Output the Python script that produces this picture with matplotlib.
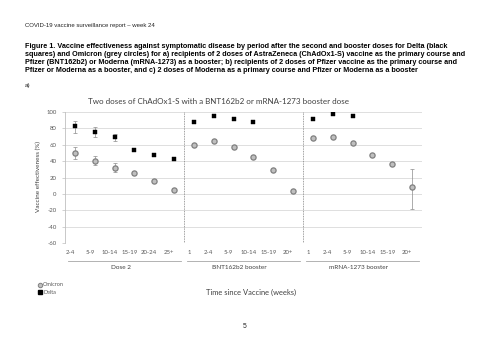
import matplotlib
matplotlib.use("Agg")
import matplotlib.pyplot as plt
import matplotlib.transforms as mtransforms
import numpy as np

# ---- data ----
categories = ["2-4", "5-9", "10-14", "15-19", "20-24", "25+",
              "1", "2-4", "5-9", "10-14", "15-19", "20+",
              "1", "2-4", "5-9", "10-14", "15-19", "20+"]
groups = ["Dose 2", "BNT162b2 booster", "mRNA-1273 booster"]

omicron = [50, 40, 32, 25, 16, 5,
           60, 65, 57, 45, 29, 3,
           68, 70, 62, 47, 36, 9]
omicron_lo = [43, 35, 27, 23, None, None,
              None, None, None, None, None, None,
              None, None, None, None, None, -19]
omicron_hi = [57, 46, 38, 27, None, None,
              None, None, None, None, None, None,
              None, None, None, None, None, 30]

delta = [83, 76, 69, 54, 47, 43,
         88, 95, 92, 88, None, None,
         91, 97, 95, None, None, None]
delta_lo = [74, 70, 65, None, None, None,
            None, None, None, None, None, None,
            None, None, None, None, None, None]
delta_hi = [89, 82, 73, None, None, None,
            None, None, None, None, None, None,
            None, None, None, None, None, None]

yticks = [-60, -40, -20, 0, 20, 40, 60, 80, 100]

W, H = 500, 353
fig = plt.figure(figsize=(W / 100, H / 100), dpi=100)
fig.patch.set_facecolor("white")

def fx(px):
    return px / W

def fy(py):
    return 1 - py / H

# ---- page text ----
fig.text(fx(25), fy(25), "COVID-19 vaccine surveillance report \u2013 week 24",
         family="Liberation Sans", fontsize=4.35, color="#222222", va="center")
caption = [
    "Figure 1. Vaccine effectiveness against symptomatic disease by period after the second and booster doses for Delta (black",
    "squares) and Omicron (grey circles) for a) recipients of 2 doses of AstraZeneca (ChAdOx1-S) vaccine as the primary course and",
    "Pfizer (BNT162b2) or Moderna (mRNA-1273) as a booster; b) recipients of 2 doses of Pfizer vaccine as the primary course and",
    "Pfizer or Moderna as a booster, and c) 2 doses of Moderna as a primary course and Pfizer or Moderna as a booster",
]
for i, line in enumerate(caption):
    fig.text(fx(25), fy(46 + i * 8.3), line, family="Liberation Sans",
             fontweight="bold", fontsize=5.2, color="black", va="center")
fig.text(fx(25), fy(86), "a)", family="Liberation Sans", fontsize=4.6,
         color="#222222", va="center")
fig.text(fx(245), fy(326), "5", family="Liberation Sans", fontsize=4.8,
         color="#222222", va="center", ha="center")

# ---- chart ----
left, right, top, bottom = 65, 422, 112, 243
ax = fig.add_axes([fx(left), fy(bottom), fx(right - left), (bottom - top) / H])
ax.set_facecolor("white")
n = len(categories)
x = np.arange(n)
ax.set_xlim(-0.5, n - 0.5)
ax.set_ylim(-60, 100)

for s in ["top", "right", "bottom"]:
    ax.spines[s].set_visible(False)
ax.spines["left"].set_color("#bfbfbf")
ax.spines["left"].set_linewidth(0.6)

ax.set_yticks(yticks)
ax.set_yticklabels([str(v) for v in yticks], family="Lato", fontsize=4.3,
                   color="#595959")
ax.tick_params(axis="y", length=2, width=0.5, color="#bfbfbf", pad=4)
ax.yaxis.grid(True, color="#d9d9d9", linewidth=0.6)
ax.set_axisbelow(True)

ax.set_xticks(x)
ax.set_xticklabels(categories, family="Lato", fontsize=4.3, color="#595959")
ax.tick_params(axis="x", length=0, pad=5)
offset = mtransforms.ScaledTranslation(-5 / 100, 0, fig.dpi_scale_trans)
for lab in ax.get_xticklabels():
    lab.set_transform(lab.get_transform() + offset)

# separators
for sep in [5.5, 11.5]:
    ax.axvline(sep, color="#7f7f7f", linewidth=0.6, linestyle=(0, (1, 1)))

# error bars
def add_err(vals, lo, hi, color):
    for xi, v, l, h in zip(x, vals, lo, hi):
        if v is None or l is None:
            continue
        ax.errorbar([xi], [v], yerr=[[v - l], [h - v]], fmt="none",
                    ecolor=color, elinewidth=0.5, capsize=1.3, capthick=0.5,
                    zorder=2)

add_err(omicron, omicron_lo, omicron_hi, "#8c8c8c")
add_err(delta, delta_lo, delta_hi, "#8c8c8c")

ox = [xi for xi, v in zip(x, omicron) if v is not None]
oy = [v for v in omicron if v is not None]
dx = [xi for xi, v in zip(x, delta) if v is not None]
dy = [v for v in delta if v is not None]
ax.scatter(ox, oy, s=14, marker="o", facecolor="#bfbfbf", edgecolor="#7f7f7f",
           linewidth=0.9, zorder=3)
ax.scatter(dx, dy, s=8, marker="s", facecolor="black", edgecolor="black",
           linewidth=0.3, zorder=3)

ax.set_title("Two doses of ChAdOx1-S with a BNT162b2 or mRNA-1273 booster dose",
             family="Lato", fontsize=5.8, color="#404040", x=(218 - left) / (right - left),
             pad=6)

# y label
fig.text(fx(38), fy(177), "Vaccine effectiveness (%)", family="Lato", fontsize=4.6,
         color="#404040", rotation=90, va="center", ha="center")

# group brackets and labels
bt = ax.get_xaxis_transform()
group_spans = [(-0.5, 5.5), (5.5, 11.5), (11.5, 17.5)]
for (a, b), g in zip(group_spans, groups):
    ax.plot([a + 0.15, b - 0.15], [-0.135, -0.135], transform=bt, color="#a6a6a6",
            linewidth=0.6, clip_on=False)
    ax.text((a + b) / 2 - 0.2, -0.19, g, transform=bt, family="Lato", fontsize=4.6,
            color="#404040", ha="center", va="center")

fig.text(fx(251), fy(292), "Time since Vaccine (weeks)", family="Lato", fontsize=5.4,
         color="#404040", ha="center", va="center")

# legend
fig.lines.append(plt.Line2D([fx(40)], [fy(285)], marker="o", markersize=3.2,
                            markerfacecolor="#bfbfbf", markeredgecolor="#7f7f7f",
                            markeredgewidth=0.7, linestyle="none",
                            transform=fig.transFigure))
fig.lines.append(plt.Line2D([fx(40)], [fy(292)], marker="s", markersize=2.4,
                            markerfacecolor="black", markeredgecolor="black",
                            linestyle="none", transform=fig.transFigure))
fig.text(fx(43), fy(285), "Omicron", family="Lato", fontsize=4.0, color="#595959",
         va="center")
fig.text(fx(43), fy(292), "Delta", family="Lato", fontsize=4.0, color="#595959",
         va="center")

fig.savefig("out.png", dpi=100, facecolor="white")
